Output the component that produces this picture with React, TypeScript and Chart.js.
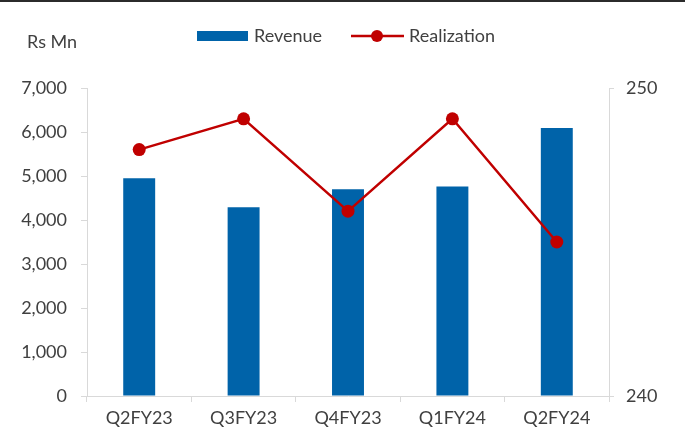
import React, { useEffect, useRef } from "react";
import { Chart, registerables } from "chart.js";

Chart.register(...registerables);

const categories = ["Q2FY23", "Q3FY23", "Q4FY23", "Q1FY24", "Q2FY24"];
const revenue = [4950, 4290, 4700, 4760, 6090];
const realization = [248, 249, 246, 249, 245];
const leftTicks = [0, 1000, 2000, 3000, 4000, 5000, 6000, 7000];
const rightTicks = [240, 250];

const BLUE = "#0063A9";
const RED = "#C00000";
const TEXT = "#404040";
const AXIS = "#D9D9D9";
const FONT = "Lato";
const FS = 18;

const overlay = {
  id: "overlay",
  beforeDraw(chart: any) {
    const ctx = chart.ctx;
    ctx.save();
    ctx.fillStyle = "#ffffff";
    ctx.fillRect(0, 0, chart.width, chart.height);
    ctx.fillStyle = "#2b2b2b";
    ctx.fillRect(0, 0, chart.width, 2);
    ctx.restore();
  },
  afterDraw(chart: any) {
    const ctx = chart.ctx;
    ctx.save();
    ctx.font = `${FS}px ${FONT}`;
    ctx.fillStyle = TEXT;
    ctx.textBaseline = "middle";
    ctx.textAlign = "left";
    ctx.fillText("Rs Mn", 27, 42);
    // legend: Revenue
    const ly = 36;
    ctx.fillStyle = BLUE;
    ctx.fillRect(197, ly - 5, 51, 10);
    ctx.fillStyle = TEXT;
    ctx.fillText(chart.data.datasets[0].label, 254, ly);
    // legend: Realization
    ctx.strokeStyle = RED;
    ctx.lineWidth = 2.5;
    ctx.beginPath();
    ctx.moveTo(351, ly);
    ctx.lineTo(404, ly);
    ctx.stroke();
    ctx.fillStyle = RED;
    ctx.beginPath();
    ctx.arc(377, ly, 6, 0, Math.PI * 2);
    ctx.fill();
    ctx.fillStyle = TEXT;
    ctx.fillText(chart.data.datasets[1].label, 409, ly);
    ctx.restore();
  },
};

export default function App() {
  const ref = useRef<HTMLCanvasElement | null>(null);
  useEffect(() => {
    document.body.style.margin = "0";
    if (!ref.current) return;
    const chart = new Chart(ref.current, {
      type: "bar",
      data: {
        labels: categories,
        datasets: [
          {
            type: "bar",
            label: "Revenue",
            data: revenue,
            backgroundColor: BLUE,
            yAxisID: "y",
            barPercentage: 0.306,
            categoryPercentage: 1,
            order: 2,
          },
          {
            type: "line",
            label: "Realization",
            data: realization,
            borderColor: RED,
            backgroundColor: RED,
            borderWidth: 2.5,
            pointRadius: 6.5,
            pointHoverRadius: 6.5,
            pointBorderWidth: 0,
            yAxisID: "y1",
            tension: 0,
            order: 1,
          },
        ],
      },
      options: {
        responsive: false,
        animation: false,
        devicePixelRatio: 1,
        layout: { padding: { top: 88, left: 0, right: 0, bottom: 0 } },
        plugins: {
          legend: { display: false },
          tooltip: { enabled: false },
        },
        scales: {
          x: {
            grid: {
              display: true,
              drawOnChartArea: false,
              drawTicks: true,
              tickLength: 6,
              color: AXIS,
              offset: true,
            },
            border: { display: true, color: AXIS, width: 1 },
            ticks: {
              color: TEXT,
              font: { family: FONT, size: FS },
              padding: 5,
              maxRotation: 0,
            },
            afterFit: (s: any) => {
              s.height = 36;
            },
          },
          y: {
            position: "left",
            min: 0,
            max: 7000,
            afterBuildTicks: (s: any) => {
              s.ticks = leftTicks.map((v) => ({ value: v }));
            },
            grid: {
              display: true,
              drawOnChartArea: false,
              drawTicks: true,
              tickLength: 6,
              color: AXIS,
            },
            border: { display: true, color: AXIS, width: 1 },
            ticks: {
              color: TEXT,
              font: { family: FONT, size: FS },
              padding: 14,
              callback: (v: any) => Number(v).toLocaleString("en-US"),
            },
            afterFit: (s: any) => {
              s.width = 87;
            },
          },
          y1: {
            position: "right",
            min: 240,
            max: 250,
            afterBuildTicks: (s: any) => {
              s.ticks = rightTicks.map((v) => ({ value: v }));
            },
            grid: {
              display: true,
              drawOnChartArea: false,
              drawTicks: true,
              tickLength: 5,
              color: AXIS,
            },
            border: { display: true, color: AXIS, width: 1 },
            ticks: {
              color: TEXT,
              font: { family: FONT, size: FS },
              padding: 12,
            },
            afterFit: (s: any) => {
              s.width = 76;
            },
          },
        },
      },
      plugins: [overlay],
    });
    return () => chart.destroy();
  }, []);
  return <canvas ref={ref} width={685} height={432} style={{ display: "block" }} />;
}
